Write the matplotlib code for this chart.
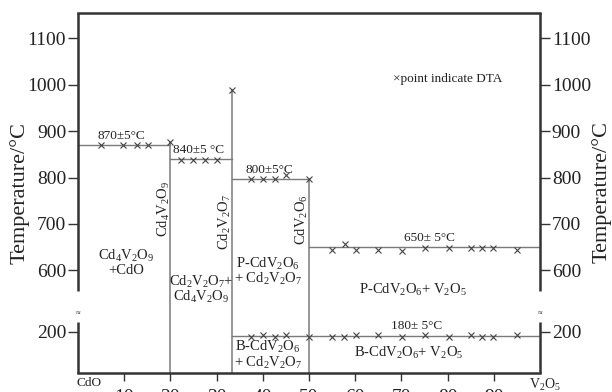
import numpy as np
import matplotlib
matplotlib.use('Agg')
import matplotlib.pyplot as plt
import matplotlib.transforms as mtransforms

plt.rcParams['font.family'] = ['Liberation Serif', 'DejaVu Serif']
plt.rcParams['mathtext.fontset'] = 'custom'
plt.rcParams['mathtext.rm'] = 'Liberation Serif'
plt.rcParams['mathtext.it'] = 'Liberation Serif:italic'
plt.rcParams['mathtext.default'] = 'regular'

# ---------------- data ----------------
x_ticks = [10, 20, 30, 40, 50, 60, 70, 80, 90]
y_ticks = [200, 600, 700, 800, 900, 1000, 1100]

# isotherms: temperature, start and end composition (mol% V2O5)
iso_temps = [870, 840, 797, 650, 180]
iso_x_start = [0, 20, 33.3, 50, 33.3]
iso_x_end = [20, 33.3, 50, 100, 100]

# compound lines: composition and top temperature
comp_x = [20, 33.3, 50]
comp_top = [876, 988, 797]
comp_names = [r'Cd$_4$V$_2$O$_9$', r'Cd$_2$V$_2$O$_7$', r'CdV$_2$O$_6$']
comp_label_t = [733, 705, 709]

# DTA points
dta_x = [5, 9.8, 12.7, 15.1, 20,
         22.3, 24.9, 27.5, 30.1, 33.3,
         37.4, 40.0, 42.6, 45.0, 50.1,
         55.0, 57.9, 60.1, 65.0, 70.1, 75.2, 80.2, 85.0, 87.5, 89.9, 95.0,
         37.5, 40.1, 42.7, 45.0, 50.1, 55.0, 57.6, 60.1, 65.0, 70.1, 75.2,
         80.2, 85.0, 87.5, 89.9, 95.0]
dta_t = [870, 870, 870, 870, 876,
         838, 838, 838, 838, 988,
         797, 797, 797, 805, 797,
         644, 656, 644, 645, 642, 649, 649, 649, 649, 649, 644,
         176, 184, 176, 184, 176, 176, 176, 184, 184, 176, 184,
         176, 184, 176, 176, 184]

# temperature annotations
iso_labels = ['870±5°C', '840±5 °C', '800±5°C', '650± 5°C', '180± 5°C']
iso_label_x = [9.4, 26.2, 41.5, 76.0, 73.4]
iso_label_t = [889, 859, 816, 669, 227]

# phase field labels
field_labels = [r'Cd$_4$V$_2$O$_9$' + '\n+CdO',
                r'Cd$_2$V$_2$O$_7$+' + '\n' + r'Cd$_4$V$_2$O$_9$',
                r'P-CdV$_2$O$_6$' + '\n' + r'+ Cd$_2$V$_2$O$_7$',
                r'B-CdV$_2$O$_6$' + '\n' + r'+ Cd$_2$V$_2$O$_7$',
                r'P-CdV$_2$O$_6$+ V$_2$O$_5$',
                r'B-CdV$_2$O$_6$+ V$_2$O$_5$']
field_x = [10.5, 26.6, 41.2, 41.1, 72.5, 71.5]
field_t = [617, 559, 598, 87, 557, 98]

# ---------------- broken temperature scale ----------------
_xp = np.array([-1e4, 0.0, 250.0, 550.0, 1e4])
_fp = np.array([379.3 - 0.443 * 1e4, 379.3, 490.0, 550.0, 1e4])


def fwd(t):
    return np.interp(t, _xp, _fp)


def inv(u):
    return np.interp(u, _fp, _xp)


fig = plt.figure(figsize=(6.12, 3.92), dpi=100)
ax = fig.add_axes([78 / 612, 19 / 392, 462 / 612, 360 / 392])
ax.set_yscale('function', functions=(fwd, inv))
ax.set_xlim(0, 100)
ax.set_ylim(0, 1154)

line_col = '#7a7a7a'
txt_col = '#222222'
frame_col = '#333333'

for t, x0, x1 in zip(iso_temps, iso_x_start, iso_x_end):
    ax.plot([x0, x1], [t, t], color=line_col, lw=1.0, zorder=2)
for x, top in zip(comp_x, comp_top):
    ax.plot([x, x], [0, top], color=line_col, lw=1.1, zorder=2)

ax.plot(dta_x, dta_t, linestyle='none', marker='x', ms=4.5, mew=0.8,
        color='#444444', zorder=3)

for s, x, t in zip(iso_labels, iso_label_x, iso_label_t):
    ax.text(x, t, s, ha='center', va='center', fontsize=9.5, color=txt_col)

for s, x, t in zip(field_labels, field_x, field_t):
    ax.text(x, t, s, ha='center', va='center', fontsize=10.5, color=txt_col,
            linespacing=0.95)

for s, x, t in zip(comp_names, comp_x, comp_label_t):
    ax.text(x - 1.5, t, s, ha='center', va='center', rotation=90,
            fontsize=10.5, color=txt_col)

ax.text(68.1, 1013, '×point indicate DTA', ha='left', va='center',
        fontsize=9.5, color=txt_col)

# frame with broken left/right spines
for side in ['left', 'right']:
    ax.spines[side].set_visible(False)
for side in ['top', 'bottom']:
    ax.spines[side].set_linewidth(1.8)
    ax.spines[side].set_color(frame_col)

btr = mtransforms.blended_transform_factory(ax.transAxes, ax.transData)
for xa in [0, 1]:
    ax.plot([xa, xa], [0, 250], color=frame_col, lw=1.8, transform=btr,
            clip_on=False, solid_capstyle='butt')
    ax.plot([xa, xa], [555, 1154], color=frame_col, lw=1.8, transform=btr,
            clip_on=False, solid_capstyle='butt')
    ax.text(xa, 342, '≈', transform=btr, ha='center', va='center',
            fontsize=6, color=txt_col)

ax.set_yticks(y_ticks)
ax.set_yticklabels([str(v) for v in y_ticks])
ax.tick_params(axis='y', which='major', direction='out', length=7.5,
               width=1.0, color=frame_col, left=True, right=True,
               labelleft=True, labelright=True, labelsize=14, pad=1,
               labelcolor=txt_col)
ax.set_xticks(x_ticks)
ax.set_xticklabels([str(v) for v in x_ticks])
ax.tick_params(axis='x', which='major', direction='out', length=6,
               width=1.0, color=frame_col, labelsize=14, pad=5.5,
               labelcolor=txt_col)
ax.minorticks_off()

ax.text(2.3, -0.028, 'CdO', transform=mtransforms.blended_transform_factory(
    ax.transData, ax.transAxes), ha='center', va='center', fontsize=9.5,
    color=txt_col)
ax.text(101, -0.033, r'V$_2$O$_5$',
        transform=mtransforms.blended_transform_factory(ax.transData,
                                                        ax.transAxes),
        ha='center', va='center', fontsize=10, color=txt_col)

fig.text(20 / 612, 1 - 193.5 / 392, 'Temperature/°C', rotation=90,
         ha='center', va='center', fontsize=16, color=txt_col)
fig.text(602 / 612, 1 - 192 / 392, 'Temperature/°C', rotation=90,
         ha='center', va='center', fontsize=16, color=txt_col)

fig.savefig('out.png', dpi=100)
